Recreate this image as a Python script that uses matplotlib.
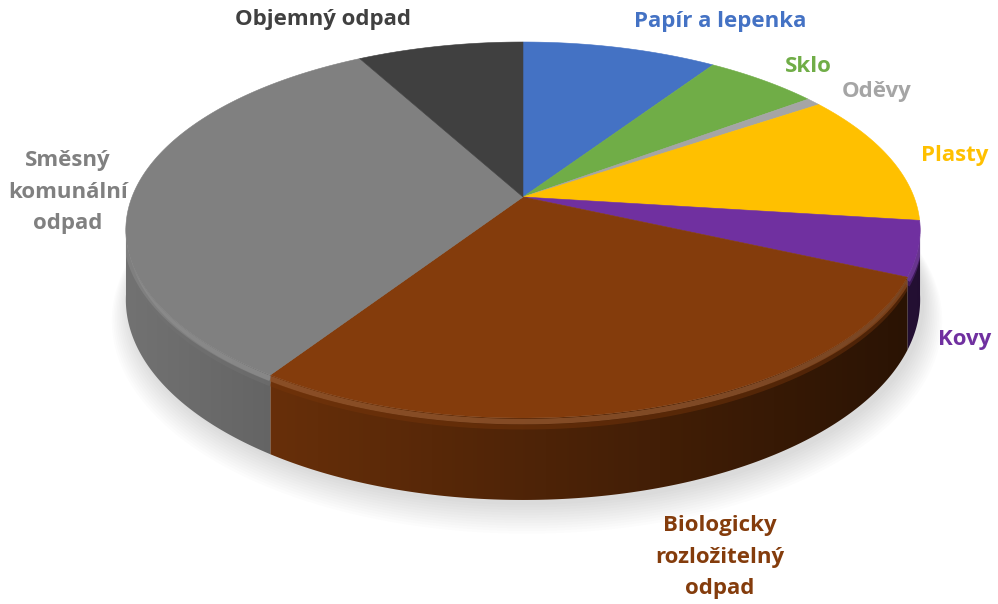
import numpy as np
import matplotlib
matplotlib.use("Agg")
import matplotlib.pyplot as plt
from matplotlib.patches import Polygon
import matplotlib.colors as mcolors

# ---- data ----
categories = ["Papír a lepenka", "Sklo", "Oděvy", "Plasty", "Kovy",
              "Biologicky\nrozložitelný\nodpad", "Směsný\nkomunální\nodpad",
              "Objemný odpad"]
values = [9.4, 5.5, 0.7, 11.4, 4.7, 27.6, 32.7, 8.0]
colors = ["#4472C4", "#70AD47", "#A5A5A5", "#FFC000", "#7030A0",
          "#843C0C", "#808080", "#404040"]

# ---- layout / style ----
label_pos = [(720, 21), (808, 66), (877, 91), (955, 155), (965, 340),
             (720, 557), (68, 192), (323, 20)]
cx, cy = 523.0, 197.0
A, B, k = 391.0, 182.2, 0.1755
Hs = 67.6
W, H = 998, 604

plt.rcParams['font.family'] = ['Open Sans', 'DejaVu Sans']

fig = plt.figure(figsize=(9.98, 6.04), dpi=100)
ax = fig.add_axes([0, 0, 1, 1])
ax.set_xlim(0, W)
ax.set_ylim(H, 0)
ax.axis('off')


def proj(theta_deg, h=0.0, scale=1.0):
    th = np.radians(theta_deg)
    u = np.sin(th) * scale
    v = np.cos(th) * scale
    w = 1 + k * v
    X = cx + A * u / w
    Y = cy - B * v / w + h / w
    return X, Y


# soft shadow below the pie
full = np.linspace(0, 360, 361)
for i in range(12):
    s = 1.0 + 0.004 * i
    X, Y = proj(full, Hs + 4 + 1.2 * i, s)
    ax.add_patch(Polygon(np.column_stack([X + 4, Y]), closed=True,
                         facecolor='black', edgecolor='none', alpha=0.012,
                         zorder=1))

total = float(sum(values))
cum = np.concatenate([[0.0], np.cumsum(values)]) / total * 360.0

xs = np.arange(W) + 0.5
fac = np.clip(0.60 - 0.29 * (xs - cx) / 397.0, 0.3, 0.9)

# side walls with horizontal shading gradient
for i, c in enumerate(colors):
    rgb = np.array(mcolors.to_rgb(c))
    a0, a1 = cum[i], cum[i + 1]
    ths = np.linspace(a0, a1, max(3, int((a1 - a0) / 0.5) + 2))
    vis = ths[np.cos(np.radians(ths)) < -k + 0.03]
    if len(vis) < 2:
        continue
    Xt, Yt = proj(vis)
    Xb, Yb = proj(vis, Hs)
    poly = np.vstack([np.column_stack([Xt, Yt]),
                      np.column_stack([Xb, Yb])[::-1]])
    patch = Polygon(poly, closed=True, facecolor='none', edgecolor='none')
    ax.add_patch(patch)
    img = np.clip(fac[None, :, None] * rgb[None, None, :], 0, 1)
    im = ax.imshow(img, extent=(0, W, H, 0), aspect='auto',
                   interpolation='bilinear', zorder=2)
    im.set_clip_path(patch)
    # bevel highlight along front rim (clipped to the side wall)
    light = np.clip(rgb + (1 - rgb) * 0.15, 0, 1)
    X, Y = proj(vis, 3.0)
    ln1, = ax.plot(X, Y, color=light, lw=4.0, alpha=0.75, zorder=3,
                   solid_capstyle='butt')
    ln1.set_clip_path(patch)
    X, Y = proj(vis, 7.5)
    ln2, = ax.plot(X, Y, color=np.clip(rgb * 0.9, 0, 1), lw=3.5, alpha=0.45,
                   zorder=3, solid_capstyle='butt')
    ln2.set_clip_path(patch)

# top face wedges
for i, c in enumerate(colors):
    a0, a1 = cum[i], cum[i + 1]
    ths = np.linspace(a0, a1, max(3, int((a1 - a0) / 0.5) + 2))
    X, Y = proj(ths)
    pts = np.vstack([[cx, cy], np.column_stack([X, Y])])
    ax.add_patch(Polygon(pts, closed=True, facecolor=c, edgecolor=c,
                         lw=0.4, zorder=4))

# labels
for lab, c, (x, y) in zip(categories, colors, label_pos):
    ax.text(x, y, lab, color=c, fontsize=16, fontweight='bold',
            ha='center', va='center', linespacing=1.66, zorder=5)

fig.savefig("out.png", dpi=100)
